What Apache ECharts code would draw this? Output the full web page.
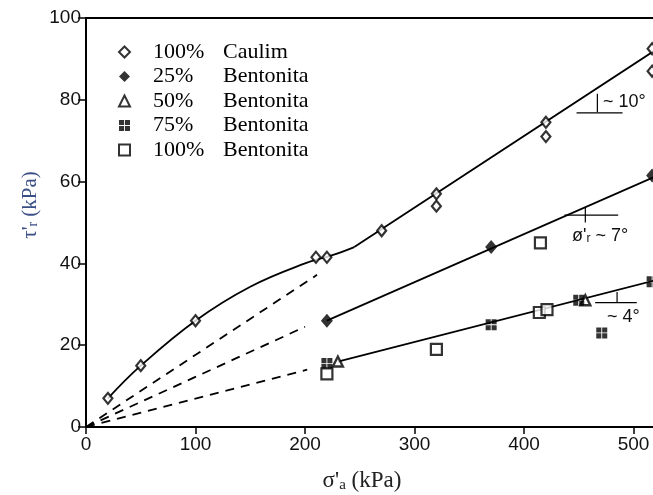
<!DOCTYPE html>
<html>
<head>
<meta charset="utf-8">
<script src="https://cdn.jsdelivr.net/npm/echarts@6/dist/echarts.min.js"></script>
<style>
  html, body { margin: 0; padding: 0; background: #fff; }
  #chart { width: 653px; height: 495px; }
</style>
</head>
<body>
<div id="chart"></div>
<script>
// measured points [sigma'a, tau'r] in kPa
const caulim = [[20, 7], [50, 15], [100, 26], [210, 41.5], [220, 41.5], [270, 48], [320, 57], [320, 54], [420, 74.5], [420, 71], [517, 92.5], [517, 87]];
const bent25 = [[220, 26], [370, 44], [517, 61.5]];
const bent50 = [[230, 16], [456, 31]];
const bent75 = [[220, 15.5], [370, 25], [450, 31], [471, 23], [517, 35.5]];
const bent100 = [[220, 13], [320, 19], [415, 45], [414, 28], [421, 28.7]];

// fitted envelopes
const caulimCurve = [[20, 7], [50, 15], [100, 26], [150, 34.3], [200, 40], [225, 42], [245, 44]];
const caulimLine = [[245, 44], [522, 92.5]];
const bent25Line = [[220, 26], [522, 61.5]];
const bentLowLine = [[230, 16], [522, 36]];
const dashHigh = [[0, 0], [211, 37.2]];
const dashMid = [[0, 0], [200, 24.5]];
const dashLow = [[0, 0], [202, 14]];

// angle marks
const angle10 = [[448, 76.8], [490, 76.8]];
const arc10 = [[467, 77], [467, 81.5]];
const angle7 = [[437, 51.8], [486, 51.8]];
const arc7 = [[456, 50], [456, 53.6]];
const angle4 = [[465, 30.4], [503, 30.4]];
const arc4 = [[485, 30.4], [485, 33]];

const seriesNames = ['100% Caulim', '25% Bentonita', '50% Bentonita', '75% Bentonita', '100% Bentonita'];

const chart = echarts.init(document.getElementById('chart'));

// filled square split by a thin white cross
const sq75 = 'path://M0,0H4.6V4.6H0Z M5.4,0H10V4.6H5.4Z M0,5.4H4.6V10H0Z M5.4,5.4H10V10H5.4Z';

function guide(data, dashed, width) {
    return {
        type: 'line',
        data: data,
        symbol: 'none',
        silent: true,
        z: 2,
        lineStyle: { color: '#000', width: width || 1.8, type: dashed ? [9, 7] : 'solid' }
    };
}

const option = {
    animation: false,
    backgroundColor: '#fff',
    grid: { left: 86, top: 18, width: 657, height: 409, outerBoundsMode: 'none', containLabel: false },
    legend: {
        data: seriesNames,
        orient: 'vertical',
        left: 113,
        top: 36,
        itemWidth: 11,
        itemHeight: 11,
        itemGap: 2.5,
        selectedMode: false,
        formatter: function (name) {
            const parts = name.split(' ');
            return '{s|}{p|' + parts[0] + '}{n|' + parts[1] + '}';
        },
        textStyle: {
            fontFamily: 'Liberation Serif',
            fontSize: 22,
            color: '#000',
            lineHeight: 22,
            rich: {
                s: { width: 18 },
                p: { width: 70, fontFamily: 'Liberation Serif', fontSize: 22 },
                n: { fontFamily: 'Liberation Serif', fontSize: 22 }
            }
        }
    },
    xAxis: [{
        type: 'value',
        min: 0,
        max: 600,
        interval: 100,
        position: 'bottom',
        axisLine: { lineStyle: { color: '#000', width: 2 } },
        axisTick: { length: 7, lineStyle: { color: '#000', width: 1.5 } },
        axisLabel: { fontFamily: 'Liberation Sans', fontSize: 19, color: '#111', margin: 8 },
        splitLine: { show: false }
    }, {
        type: 'value',
        min: 0,
        max: 600,
        position: 'top',
        axisLine: { show: true, lineStyle: { color: '#000', width: 2 } },
        axisTick: { show: false },
        axisLabel: { show: false },
        splitLine: { show: false }
    }],
    yAxis: {
        type: 'value',
        min: 0,
        max: 100,
        interval: 20,
        axisLine: { show: true, lineStyle: { color: '#000', width: 2 } },
        axisTick: { show: true, length: 8, lineStyle: { color: '#000', width: 1.5 } },
        axisLabel: { fontFamily: 'Liberation Sans', fontSize: 19, color: '#111', margin: 5 },
        splitLine: { show: false }
    },
    graphic: [
        {
            type: 'text', x: 362, y: 481,
            style: {
                text: "{t|σ'}{s|a}{t| (kPa)}",
                align: 'center', verticalAlign: 'middle',
                rich: {
                    t: { fontFamily: 'Liberation Serif', fontSize: 23, fill: '#222' },
                    s: { fontFamily: 'Liberation Serif', fontSize: 15, fill: '#222', padding: [8, 0, 0, 0] }
                }
            }
        },
        {
            type: 'text', x: 30, y: 205, rotation: Math.PI / 2,
            style: {
                text: "{t|τ'}{s|r}{t| (kPa)}",
                align: 'center', verticalAlign: 'middle',
                rich: {
                    t: { fontFamily: 'Liberation Serif', fontSize: 21, fill: '#3b4f86' },
                    s: { fontFamily: 'Liberation Serif', fontSize: 14, fill: '#3b4f86', padding: [6, 0, 0, 0] }
                }
            }
        },
        {
            type: 'text', x: 603, y: 102,
            style: { text: '~ 10°', fontFamily: 'Liberation Sans', fontSize: 18, fill: '#111', verticalAlign: 'middle' }
        },
        {
            type: 'text', x: 572, y: 236,
            style: {
                text: "{a|ø'}{b|r}{a| ~ 7°}",
                verticalAlign: 'middle',
                rich: {
                    a: { fontFamily: 'Liberation Sans', fontSize: 18, fill: '#111' },
                    b: { fontFamily: 'Liberation Sans', fontSize: 12, fill: '#111', padding: [6, 0, 0, 0] }
                }
            }
        },
        {
            type: 'text', x: 607, y: 317,
            style: { text: '~ 4°', fontFamily: 'Liberation Sans', fontSize: 18, fill: '#111', verticalAlign: 'middle' }
        }
    ],
    series: [
        Object.assign(guide(caulimCurve), { smooth: 0.4 }),
        guide(caulimLine),
        guide(bent25Line),
        guide(bentLowLine),
        guide(dashHigh, true),
        guide(dashMid, true),
        guide(dashLow, true),
        guide(angle10, false, 1.2),
        guide(arc10, false, 1.2),
        guide(angle7, false, 1.2),
        guide(arc7, false, 1.2),
        guide(angle4, false, 1.2),
        guide(arc4, false, 1.2),
        {
            name: seriesNames[0], type: 'scatter', data: caulim, z: 5,
            symbol: 'diamond', symbolSize: [9, 11],
            itemStyle: { color: '#fff', borderColor: '#000', borderWidth: 2.2 }
        },
        {
            name: seriesNames[1], type: 'scatter', data: bent25, z: 5,
            symbol: 'diamond', symbolSize: [12, 14],
            itemStyle: { color: '#000' }
        },
        {
            name: seriesNames[2], type: 'scatter', data: bent50, z: 5,
            symbol: 'triangle', symbolSize: 10,
            itemStyle: { color: '#fff', borderColor: '#000', borderWidth: 2.4 }
        },
        {
            name: seriesNames[3], type: 'scatter', data: bent75, z: 5,
            symbol: sq75, symbolSize: 11,
            itemStyle: { color: '#000' }
        },
        {
            name: seriesNames[4], type: 'scatter', data: bent100, z: 5,
            symbol: 'rect', symbolSize: 11,
            itemStyle: { color: '#fff', borderColor: '#000', borderWidth: 2.2 }
        }
    ]
};

chart.setOption(option);
</script>
</body>
</html>
